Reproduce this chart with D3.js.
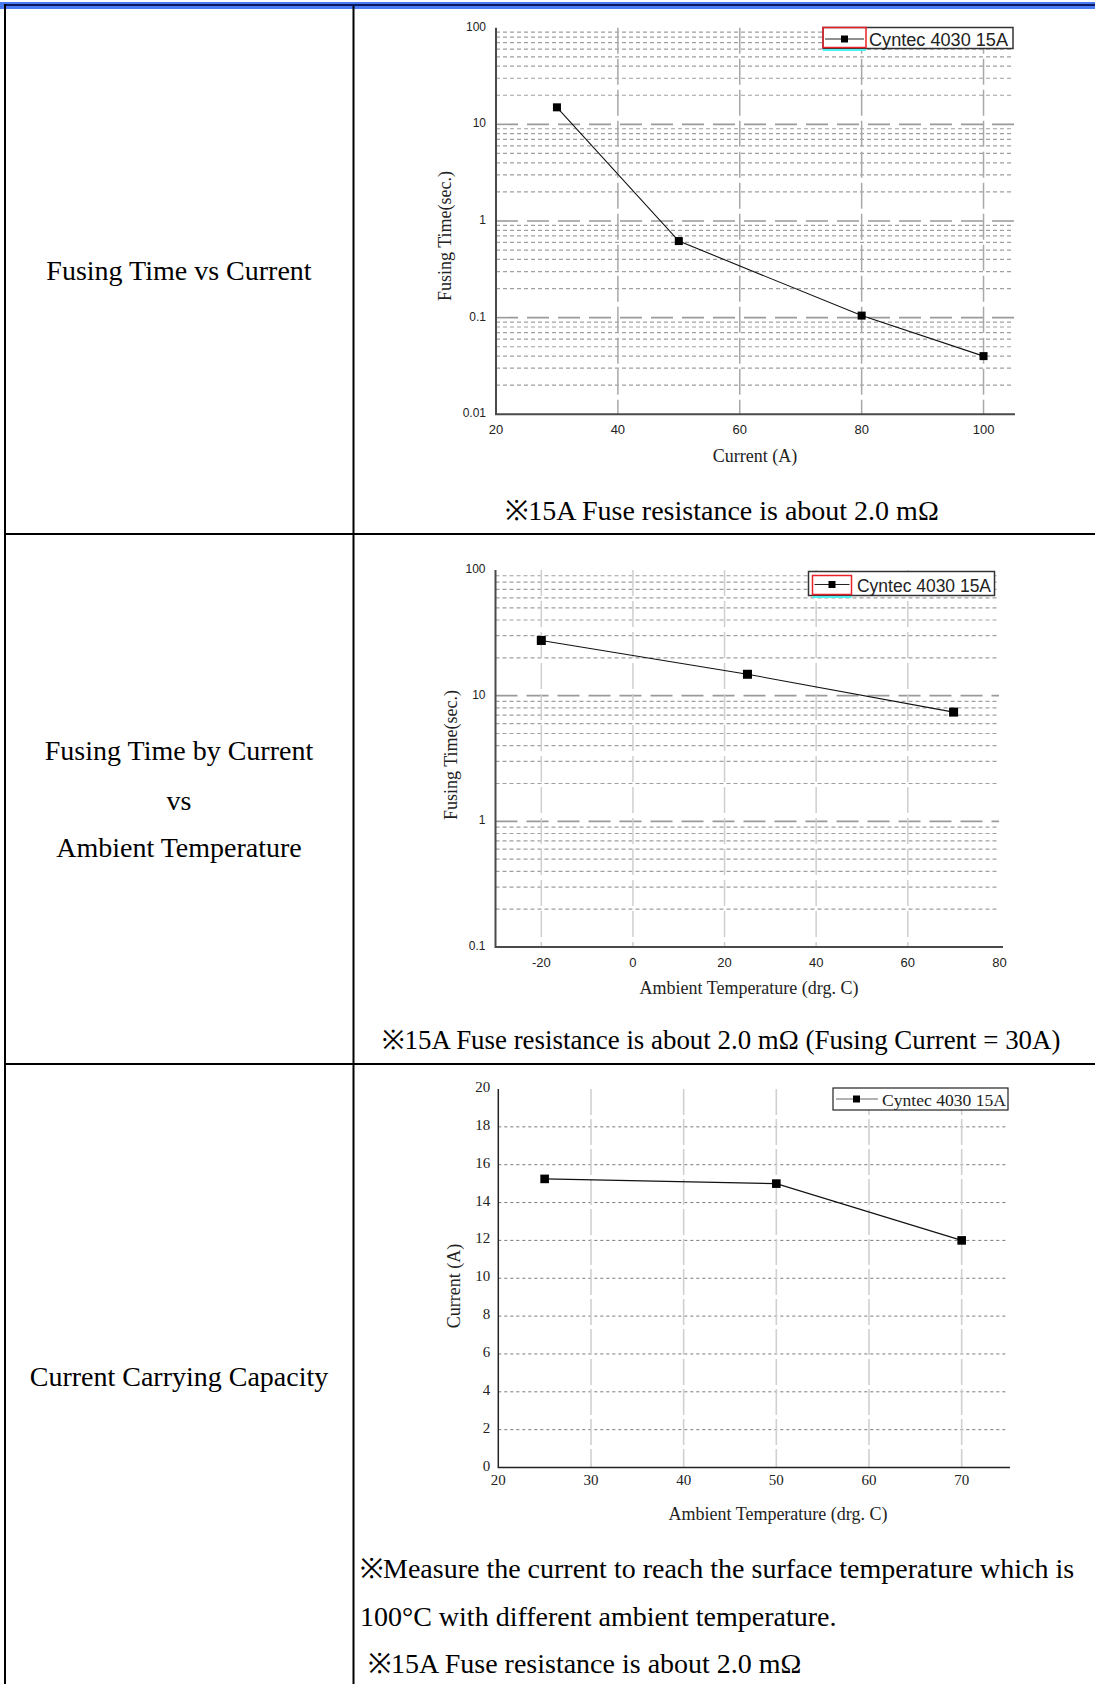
<!DOCTYPE html>
<html>
<head>
<meta charset="utf-8">
<script src="https://d3js.org/d3.v7.min.js"></script>
<style>
    body { margin: 0; background: #fff; }
    svg { display: block; }
    .cell { font-family: "Liberation Serif", "Times New Roman", serif; font-size: 28px; fill: #000; }
    .tickSans { font-family: "Liberation Sans", Arial, sans-serif; fill: #222; }
    .tickSerif { font-family: "Liberation Serif", serif; fill: #222; }
    .title { font-family: "Liberation Serif", serif; font-size: 18px; fill: #222; }
</style>
</head>
<body>
<script>

    // --- data ---
    // fusing time vs current
    const fuseCurrent = [30, 50, 80, 100];
    const fuseTime = [15, 0.62, 0.105, 0.04];
    const fuseXTicks = [20, 40, 60, 80, 100];
    const fuseYTicks = [0.01, 0.1, 1, 10, 100];

    // fusing time (30A) vs ambient temperature
    const ambTemp = [-20, 25, 70];
    const ambFuseTime = [27.5, 14.8, 7.4];
    const ambXTicks = [-20, 0, 20, 40, 60, 80];
    const ambYTicks = [0.1, 1, 10, 100];

    // current carrying capacity
    const capTemp = [25, 50, 70];
    const capCurrent = [15.25, 15.0, 12.0];
    const capXTicks = [20, 30, 40, 50, 60, 70];
    const capYTicks = [0, 2, 4, 6, 8, 10, 12, 14, 16, 18, 20];

    const seriesName = "Cyntec 4030 15A";

    const W = 1095, H = 1684;
    const svg = d3.select("body").append("svg")
        .attr("width", W)
        .attr("height", H);

    // ---------- table frame ----------
    svg.append("rect").attr("x", 0).attr("y", 2).attr("width", W).attr("height", 7).attr("fill", "#4a7af4");
    svg.append("rect").attr("x", 4).attr("y", 4).attr("width", W - 4).attr("height", 2).attr("fill", "#0a1a60");
    const frame = svg.append("g").attr("stroke", "#000").attr("stroke-width", 2);
    frame.append("line").attr("x1", 5).attr("x2", 5).attr("y1", 4).attr("y2", H);
    frame.append("line").attr("x1", 353.5).attr("x2", 353.5).attr("y1", 6).attr("y2", H);
    frame.append("line").attr("x1", 4).attr("x2", W).attr("y1", 534).attr("y2", 534);
    frame.append("line").attr("x1", 4).attr("x2", W).attr("y1", 1064).attr("y2", 1064);

    function cellText(txt, x, y, anchor, size) {
        const t = svg.append("text").attr("class", "cell")
            .attr("x", x).attr("y", y)
            .attr("text-anchor", anchor || "middle")
            .text(txt);
        if (size) t.style("font-size", size + "px");
    }

    cellText("Fusing Time vs Current", 179, 280);
    cellText("Fusing Time by Current", 179, 760);
    cellText("vs", 179, 810);
    cellText("Ambient Temperature", 179, 857);
    cellText("Current Carrying Capacity", 179, 1386);

    cellText("※15A Fuse resistance is about 2.0 mΩ", 722, 520);
    cellText("※15A Fuse resistance is about 2.0 mΩ (Fusing Current = 30A)", 721, 1049, "middle", 26.9);
    cellText("※Measure the current to reach the surface temperature which is", 360, 1578, "start");
    cellText("100°C with different ambient temperature.", 360, 1626, "start");
    cellText("※15A Fuse resistance is about 2.0 mΩ", 368, 1673, "start");

    // ---------- log charts (first two rows) ----------
    function logChart(opt) {
        const g = svg.append("g");
        const x = d3.scaleLinear().domain(opt.xDomain).range([opt.left, opt.right]);
        const y = d3.scaleLog().domain(opt.yDomain).range([opt.bottom, opt.top]);

        // horizontal grid: every 1..9 of each decade
        y.ticks().forEach(v => {
            const lg = Math.log10(v);
            const major = Math.abs(lg - Math.round(lg)) < 1e-9;
            if (v >= opt.yDomain[1] || v <= opt.yDomain[0]) return;
            g.append("line")
                .attr("x1", opt.left).attr("x2", opt.gridRight)
                .attr("y1", y(v)).attr("y2", y(v))
                .attr("stroke", major ? "#9a9a9a" : "#a0a0a0")
                .attr("stroke-width", major ? 1.6 : 1.2)
                .attr("stroke-dasharray", major ? "22,9" : "4,3");
        });

        // vertical grid
        opt.xTicks.forEach(v => {
            if (v <= opt.xDomain[0] || v > opt.vGridMax) return;
            g.append("line")
                .attr("x1", x(v)).attr("x2", x(v))
                .attr("y1", opt.top).attr("y2", opt.bottom)
                .attr("stroke", opt.vGridColor)
                .attr("stroke-width", 1.5)
                .attr("stroke-dasharray", "26,5");
        });

        // axes
        g.append("path")
            .attr("d", `M${opt.left},${opt.top}V${opt.bottom}H${opt.axisRight}`)
            .attr("fill", "none").attr("stroke", "#4a4a4a").attr("stroke-width", 2);

        opt.yTicks.forEach(v => {
            g.append("text").attr("class", "tickSans")
                .attr("x", opt.left - 10).attr("y", y(v) - 1)
                .attr("text-anchor", "end").attr("dominant-baseline", "central")
                .attr("font-size", 12)
                .text(String(v));
        });
        opt.xTicks.forEach(v => {
            g.append("text").attr("class", "tickSans")
                .attr("x", x(v)).attr("y", opt.bottom + 15)
                .attr("text-anchor", "middle").attr("dominant-baseline", "central")
                .attr("font-size", 13)
                .text(String(v));
        });

        // data
        const pts = opt.xs.map((d, i) => [d, opt.ys[i]]);
        g.append("path")
            .attr("d", d3.line().x(d => x(d[0])).y(d => y(d[1]))(pts))
            .attr("fill", "none").attr("stroke", "#111").attr("stroke-width", 1.1);
        g.selectAll(null).data(pts).enter().append("rect")
            .attr("x", d => x(d[0]) - opt.marker / 2)
            .attr("y", d => y(d[1]) - opt.marker / 2)
            .attr("width", opt.marker).attr("height", opt.marker)
            .attr("fill", "#000");

        // titles
        g.append("text").attr("class", "title")
            .attr("transform", `translate(${opt.yTitle[0]},${opt.yTitle[1]}) rotate(-90)`)
            .attr("text-anchor", "middle").attr("dominant-baseline", "central")
            .text("Fusing Time(sec.)");
        g.append("text").attr("class", "title")
            .attr("x", opt.xTitle[0]).attr("y", opt.xTitle[1])
            .attr("text-anchor", "middle").attr("dominant-baseline", "central")
            .text(opt.xLabel);

        // legend
        const L = opt.legend;
        const lg = g.append("g");
        lg.append("rect").attr("x", L.x).attr("y", L.y).attr("width", L.w).attr("height", L.h)
            .attr("fill", "#fff").attr("stroke", "#333").attr("stroke-width", 1.5);
        lg.append("rect").attr("x", L.x + L.pad).attr("y", L.y + L.pad)
            .attr("width", L.sw).attr("height", L.h - L.pad - 1)
            .attr("fill", "none").attr("stroke", "#e8222a").attr("stroke-width", 1.5);
        lg.append("line").attr("x1", L.x + L.pad).attr("x2", L.x + L.pad + L.sw)
            .attr("y1", L.y + L.h + 1.5).attr("y2", L.y + L.h + 1.5)
            .attr("stroke", "#4ff0f0").attr("stroke-width", 2);
        const cy = L.y + L.h / 2 + 1;
        lg.append("line").attr("x1", L.x + L.pad + 2).attr("x2", L.x + L.pad + L.sw - 2)
            .attr("y1", cy).attr("y2", cy).attr("stroke", "#222").attr("stroke-width", 1.2);
        lg.append("rect").attr("x", L.x + L.pad + L.sw / 2 - 3.5).attr("y", cy - 3.5)
            .attr("width", 7).attr("height", 7).attr("fill", "#000");
        lg.append("text").attr("class", "tickSans")
            .attr("x", L.tx).attr("y", cy + 1)
            .attr("dominant-baseline", "central")
            .attr("font-size", 18)
            .attr("textLength", L.tw).attr("lengthAdjust", "spacingAndGlyphs")
            .attr("fill", "#111")
            .text(seriesName);
    }

    logChart({
        left: 496, right: 1014, top: 27.7, bottom: 414.3,
        gridRight: 1014, axisRight: 1015, vGridMax: 105,
        xDomain: [20, 105], yDomain: [0.01, 100],
        xTicks: fuseXTicks, yTicks: fuseYTicks,
        xs: fuseCurrent, ys: fuseTime,
        marker: 8, vGridColor: "#a8a8a8",
        yTitle: [445, 236], xTitle: [755, 456], xLabel: "Current (A)",
        legend: { x: 823, y: 27.5, w: 190, h: 21, pad: 0, sw: 43, tx: 869, tw: 139 }
    });

    logChart({
        left: 495.5, right: 999.4, top: 570, bottom: 947,
        gridRight: 999, axisRight: 1003, vGridMax: 79,
        xDomain: [-30, 80], yDomain: [0.1, 100],
        xTicks: ambXTicks, yTicks: ambYTicks,
        xs: ambTemp, ys: ambFuseTime,
        marker: 9, vGridColor: "#cfcfcf",
        yTitle: [451, 755], xTitle: [749, 988], xLabel: "Ambient Temperature (drg. C)",
        legend: { x: 808.5, y: 571.5, w: 186, h: 24, pad: 4, sw: 39, tx: 857, tw: 134 }
    });

    // ---------- linear chart (third row) ----------
    (function () {
        const left = 498.3, right = 1008, top = 1089, bottom = 1467.5;
        const g = svg.append("g");
        const x = d3.scaleLinear().domain([20, 75]).range([left, right]);
        const y = d3.scaleLinear().domain([0, 20]).range([bottom, top]);

        capYTicks.forEach(v => {
            if (v === 0 || v === 20) return;
            g.append("line")
                .attr("x1", left).attr("x2", right)
                .attr("y1", y(v)).attr("y2", y(v))
                .attr("stroke", "#7a7a7a").attr("stroke-width", 1)
                .attr("stroke-dasharray", "3,3");
        });
        capXTicks.forEach(v => {
            if (v === 20) return;
            g.append("line")
                .attr("x1", x(v)).attr("x2", x(v))
                .attr("y1", top).attr("y2", bottom)
                .attr("stroke", "#d0d0d0").attr("stroke-width", 1.6)
                .attr("stroke-dasharray", "26,4");
        });

        g.append("path")
            .attr("d", `M${left},${top}V${bottom}H${right + 2}`)
            .attr("fill", "none").attr("stroke", "#222").attr("stroke-width", 1.5);

        capYTicks.forEach(v => {
            g.append("text").attr("class", "tickSerif")
                .attr("x", left - 8).attr("y", y(v) - 2)
                .attr("text-anchor", "end").attr("dominant-baseline", "central")
                .attr("font-size", 15)
                .text(String(v));
        });
        capXTicks.forEach(v => {
            g.append("text").attr("class", "tickSerif")
                .attr("x", x(v)).attr("y", bottom + 12)
                .attr("text-anchor", "middle").attr("dominant-baseline", "central")
                .attr("font-size", 15)
                .text(String(v));
        });

        const pts = capTemp.map((d, i) => [d, capCurrent[i]]);
        g.append("path")
            .attr("d", d3.line().x(d => x(d[0])).y(d => y(d[1]))(pts))
            .attr("fill", "none").attr("stroke", "#111").attr("stroke-width", 1.1);
        g.selectAll(null).data(pts).enter().append("rect")
            .attr("x", d => x(d[0]) - 4.3)
            .attr("y", d => y(d[1]) - 4.3)
            .attr("width", 8.6).attr("height", 8.6)
            .attr("fill", "#000");

        g.append("text").attr("class", "title")
            .attr("transform", "translate(454,1286) rotate(-90)")
            .attr("text-anchor", "middle").attr("dominant-baseline", "central")
            .text("Current (A)");
        g.append("text").attr("class", "title")
            .attr("x", 778).attr("y", 1514)
            .attr("text-anchor", "middle").attr("dominant-baseline", "central")
            .text("Ambient Temperature (drg. C)");

        // legend
        const lx = 833, ly = 1088, lw = 175, lh = 22;
        g.append("rect").attr("x", lx).attr("y", ly).attr("width", lw).attr("height", lh)
            .attr("fill", "#fff").attr("stroke", "#222").attr("stroke-width", 1.2);
        g.append("line").attr("x1", lx + 3).attr("x2", lx + 45)
            .attr("y1", ly + lh / 2).attr("y2", ly + lh / 2)
            .attr("stroke", "#666").attr("stroke-width", 1.2);
        g.append("rect").attr("x", lx + 20).attr("y", ly + lh / 2 - 3.5)
            .attr("width", 7).attr("height", 7).attr("fill", "#000");
        g.append("text").attr("class", "tickSerif")
            .attr("x", lx + 49).attr("y", ly + lh / 2 + 1)
            .attr("dominant-baseline", "central")
            .attr("font-size", 17)
            .attr("textLength", 124).attr("lengthAdjust", "spacingAndGlyphs")
            .text(seriesName);
    })();

</script>
</body>
</html>
